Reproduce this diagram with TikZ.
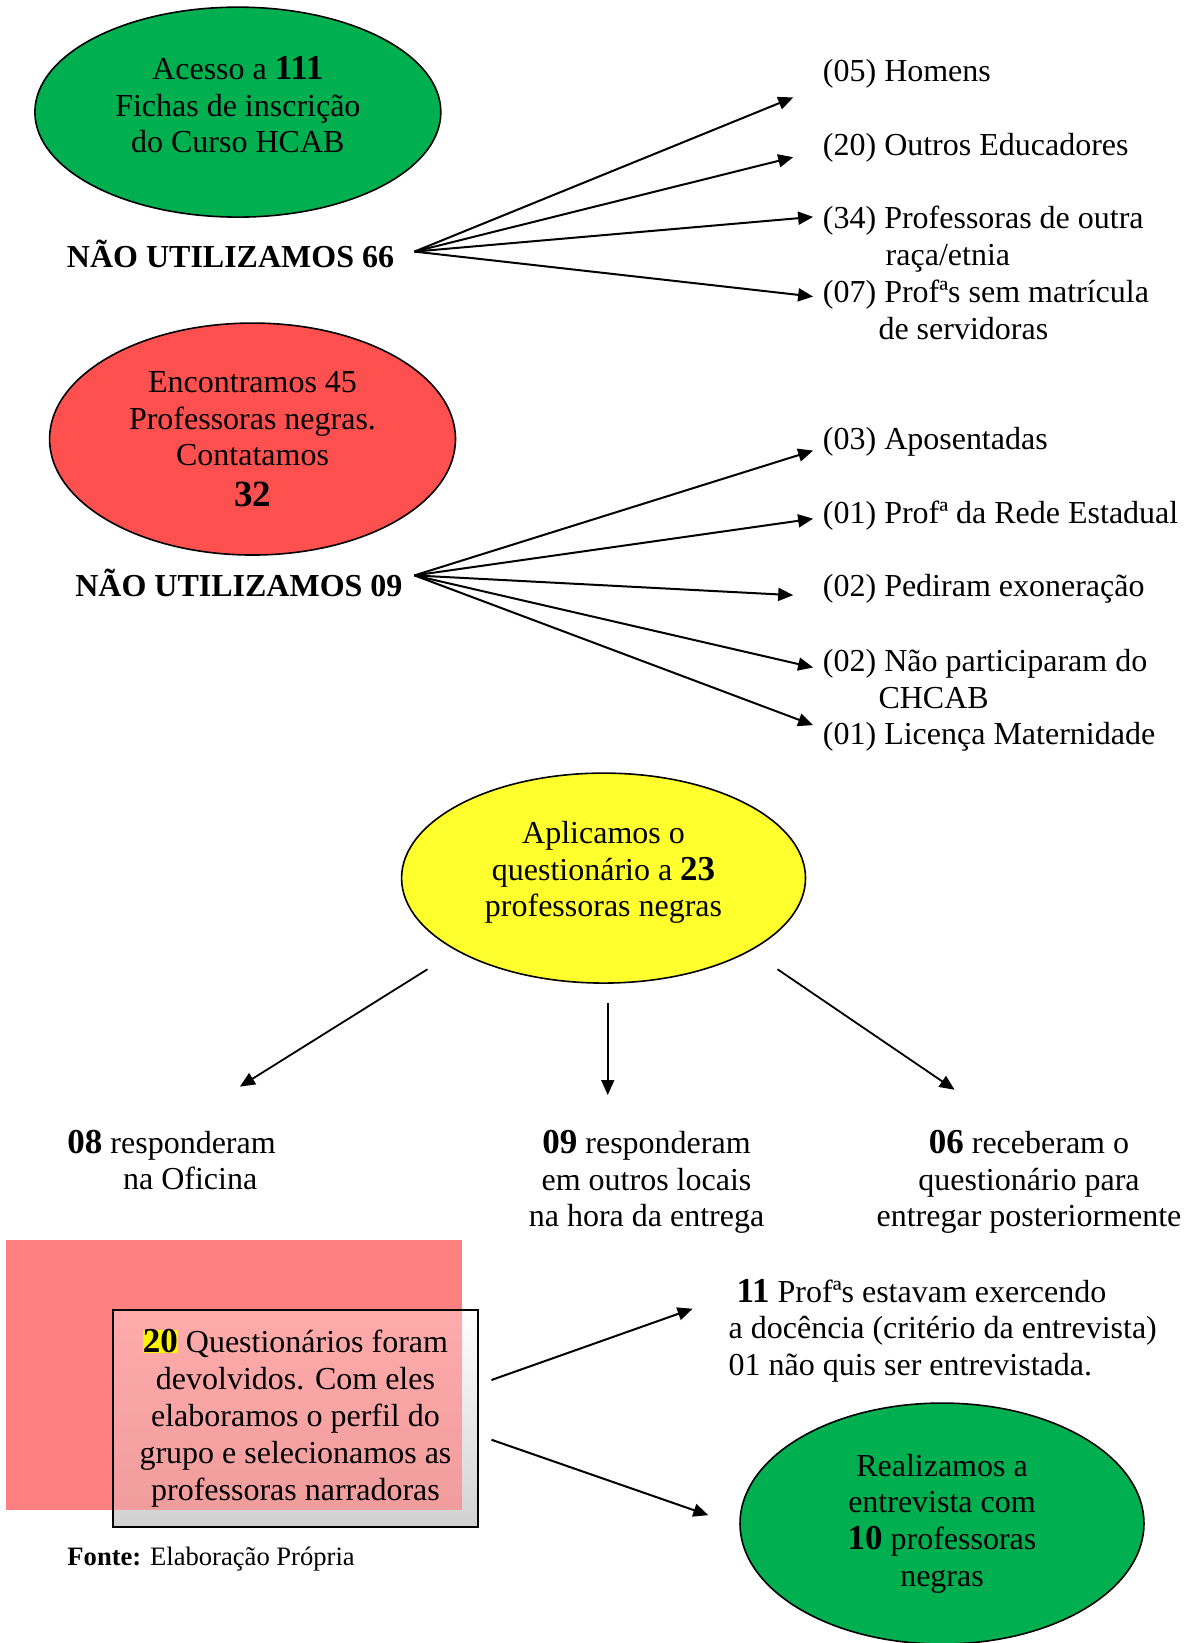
\documentclass[tikz,border=0pt]{standalone}
\usepackage{fontspec}
\setmainfont{Liberation Serif}
\usetikzlibrary{shapes.geometric,arrows.meta}
\definecolor{grn}{HTML}{00B050}
\definecolor{redc}{HTML}{FF5050}
\definecolor{yel}{HTML}{FFFF2E}
\definecolor{pinkc}{HTML}{FF8080}
\newcommand{\bignum}[1]{{\fontsize{17.5}{18.4}\selectfont\bfseries #1}}
\setlength{\fboxsep}{0pt}
\begin{document}
\begin{tikzpicture}[x=0.524pt,y=-0.524pt,
  txt/.style={font=\fontsize{16}{18.4}\selectfont, inner sep=0pt},
  boldtxt/.style={font=\fontsize{16}{18.4}\selectfont\bfseries, inner sep=0pt},
  oval/.style={ellipse, draw, line width=0.8pt, inner sep=0pt, align=center,
    font=\fontsize{16}{18.4}\selectfont},
  arr/.style={line width=1pt, -{Triangle[length=7.5pt,width=6.5pt]}},
]
\useasboundingbox (0,0) rectangle (1136,1568);
\clip (0,0) rectangle (1136,1568);

% ---------- block 1
\node[oval, fill=grn, minimum width=203pt, minimum height=105pt, text depth=7.5pt] (e1) at (227,107)
  {Acesso a \bignum{111}\\Fichas de inscrição\\do Curso HCAB};
\node[boldtxt] (n66) at (220,242) {NÃO UTILIZAMOS 66};

\node[txt, anchor=west] (h05) at (785,70) {(05) Homens};
\node[txt, anchor=west] (h20) at (785,141) {(20) Outros Educadores};
\node[txt, anchor=west, align=left] (h34) at (785,228) {(34) Professoras de outra\\\hspace*{31.4pt}raça/etnia};
\node[txt, anchor=west, align=left] (h07) at (785,296) {(07) Profªs sem matrícula\\\hspace*{27.8pt}de servidoras};

\coordinate (o66) at ([shift={(10pt,1pt)}]n66.east);
\coordinate (k05) at (757,93);
\coordinate (k20) at (757,150);
\coordinate (k34) at (776,207);
\coordinate (k07) at (776,283);
\draw[arr] (o66) -- (k05);
\draw[arr] (o66) -- (k20);
\draw[arr] (o66) -- (k34);
\draw[arr] (o66) -- (k07);

% ---------- block 2
\node[oval, fill=redc, minimum width=203pt, minimum height=116pt] (e2) at (241,419)
  {Encontramos 45\\Professoras negras.\\Contatamos\\[2pt]{\fontsize{18.5}{20}\selectfont\bfseries 32}};
\node[boldtxt] (n09) at (228,556) {NÃO UTILIZAMOS 09};

\node[txt, anchor=west] (a03) at (785,422) {(03) Aposentadas};
\node[txt, anchor=west] (a01) at (785,492) {(01) Profª da Rede Estadual};
\node[txt, anchor=west] (a02) at (785,562) {(02) Pediram exoneração};
\node[txt, anchor=west, align=left] (a02b) at (785,648) {(02) Não participaram do\\\hspace*{27.8pt}CHCAB};
\node[txt, anchor=west] (a01b) at (785,703) {(01) Licença Maternidade};

\coordinate (o09) at ([shift={(5.8pt,3.6pt)}]n09.east);
\coordinate (k03) at (776,430);
\coordinate (k01) at (776,495);
\coordinate (k02) at (757,568);
\coordinate (k02b) at (776,637);
\coordinate (k01b) at (776,692);
\draw[arr] (o09) -- (k03);
\draw[arr] (o09) -- (k01);
\draw[arr] (o09) -- (k02);
\draw[arr] (o09) -- (k02b);
\draw[arr] (o09) -- (k01b);

% ---------- block 3
\node[oval, fill=yel, minimum width=202pt, minimum height=105pt, text depth=9pt] (e3) at (576,838)
  {Aplicamos o\\questionário a \bignum{23}\\professoras negras};

\node[txt, anchor=west, align=left] (r08) at (64,1107) {\bignum{08} responderam\\\hspace*{27.8pt}na Oficina};
\node[txt, align=center] (r09) at (617,1128) {\bignum{09} responderam\\em outros locais\\na hora da entrega};
\node[txt, align=center] (r06) at (982,1128) {\bignum{06} receberam o\\questionário para\\entregar posteriormente};

\coordinate (s1) at (408,925);
\coordinate (s2) at (580,957);
\coordinate (s3) at (742,925);
\coordinate (k1) at (229,1037);
\coordinate (k2) at (580,1045);
\coordinate (k3) at (911,1040);
\draw[arr, line width=0.9pt] (s1) -- (k1);
\draw[arr, line width=0.9pt] (s2) -- (k2);
\draw[arr, line width=0.9pt] (s3) -- (k3);

% ---------- block 4
\coordinate (pk1) at (6,1183);
\coordinate (pk2) at (441,1441);
\fill[pinkc] (pk1) rectangle (pk2);
\node[txt, draw, line width=0.9pt, minimum width=182.4pt, minimum height=108.5pt,
  top color=white, bottom color=black!18, align=center,
  path picture={\fill[pinkc, opacity=0.66] (pk1) rectangle (pk2);}] (qbox) at (282,1353.5)
  {\colorbox{yellow}{\bignum{20}} Questionários foram\\devolvidos. Com eles\\elaboramos o perfil do\\grupo e selecionamos as\\professoras narradoras};

\node[txt, anchor=west, align=left] (p11) at (695,1270)
  {\hspace*{4pt}\bignum{11} Profªs estavam exercendo\\a docência (critério da entrevista)\\01 não quis ser entrevistada.};

\node[oval, fill=grn, minimum width=202pt, minimum height=120.5pt] (e4) at (899,1454)
  {Realizamos a\\entrevista com\\\bignum{10} professoras\\negras};

\coordinate (b1) at (469,1317);
\coordinate (b2) at (469,1374);
\coordinate (k11) at (661,1249);
\coordinate (k12) at (676,1446);
\draw[arr] (b1) -- (k11);
\draw[arr] (b2) -- (k12);

\node[anchor=west, inner sep=0pt, font=\fontsize{13.3}{15}\selectfont] (fonte) at (64,1488)
  {\textbf{Fonte:} Elaboração Própria};
\end{tikzpicture}
\end{document}
